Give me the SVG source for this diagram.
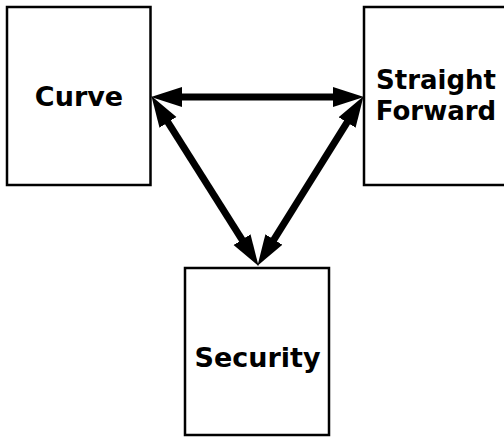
<svg xmlns="http://www.w3.org/2000/svg" width="504" height="446" viewBox="0 0 504 446">
<style>
.box{fill:#fff;stroke:#000;stroke-width:2.5}
.lbl{font-family:"DejaVu Sans",sans-serif;font-weight:bold;font-size:27px;fill:#000;text-anchor:middle}
.sf{font-size:26px}
.con{stroke:#000;stroke-width:7;fill:none;marker-start:url(#ah);marker-end:url(#ah)}
</style>
<defs>
<marker id="ah" markerUnits="userSpaceOnUse" markerWidth="32" markerHeight="22" viewBox="0 0 32 22" refX="5" refY="11" orient="auto-start-reverse">
<path d="M0,1 L31,11 L0,21 Z" fill="#000"/>
</marker>
</defs>
<rect width="504" height="446" fill="#fff"/>
<g id="curve">
<rect class="box" x="7" y="7" width="143.5" height="178"/>
<text class="lbl" x="79" y="106">Curve</text>
</g>
<g id="straight-forward">
<rect class="box" x="364" y="7" width="145" height="178"/>
<text class="lbl sf" x="436" y="89">Straight</text>
<text class="lbl sf" x="436" y="120">Forward</text>
</g>
<g id="security">
<rect class="box" x="185" y="268" width="144" height="167"/>
<text class="lbl" x="257.5" y="367">Security</text>
</g>
<g id="connectors">
<line class="con" x1="177" y1="97" x2="338" y2="97"/>
<line class="con" x1="165.3" y1="118.1" x2="244.7" y2="243.9"/>
<line class="con" x1="349.75" y1="118.2" x2="271.25" y2="243.8"/>
</g>
</svg>
